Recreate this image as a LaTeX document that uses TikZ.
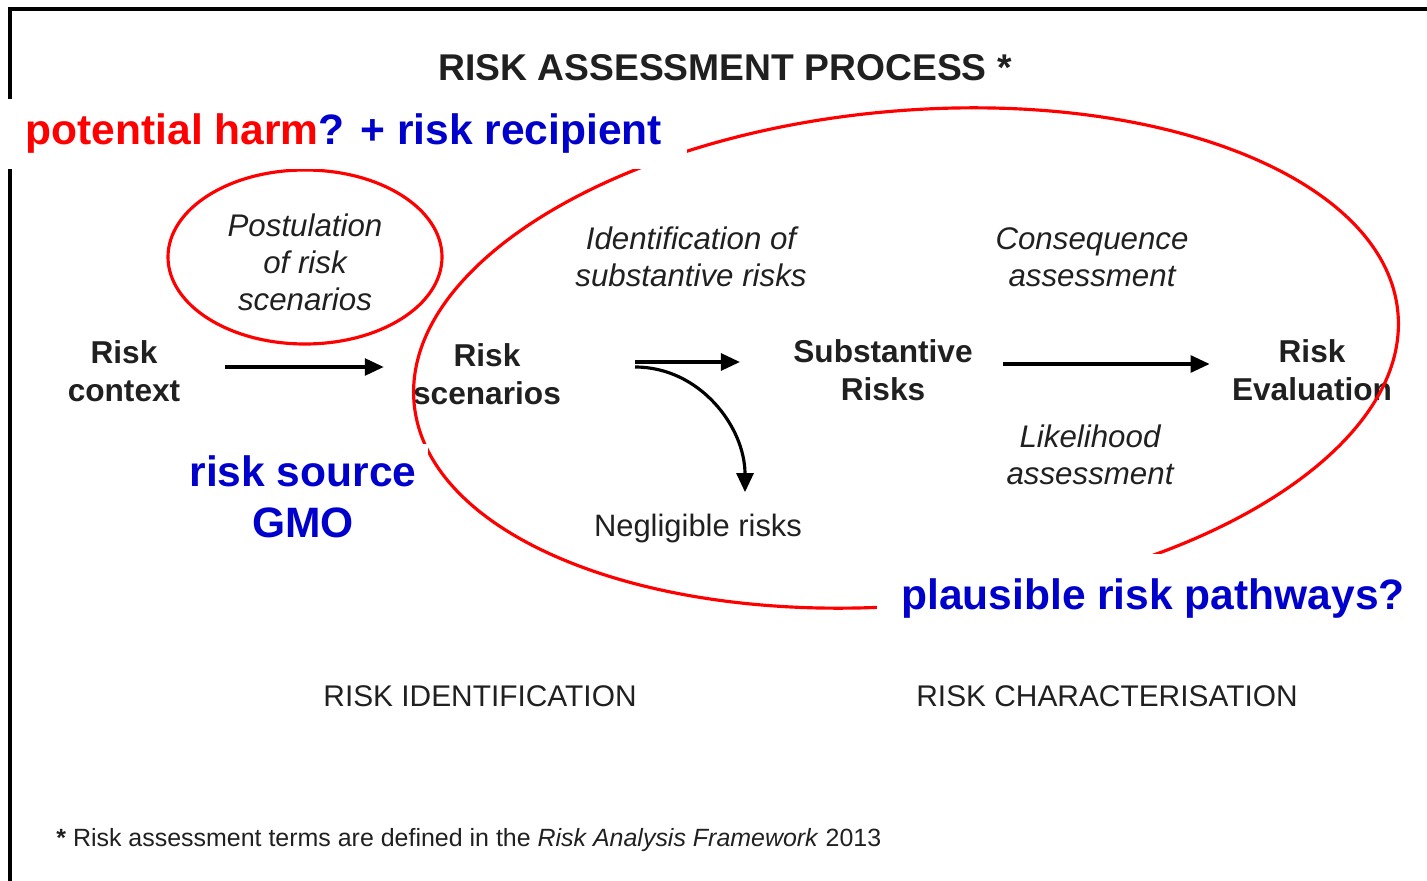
\documentclass[tikz,border=0pt]{standalone}
\usepackage{fontspec}
\setmainfont{Liberation Sans}
\usepackage{xcolor}
\usepackage{tikz}
\usetikzlibrary{arrows.meta, calc}
\definecolor{inkgrey}{HTML}{202020}
\definecolor{markred}{HTML}{FF0000}
\definecolor{markblue}{HTML}{0000CC}

\begin{document}
\begin{tikzpicture}[
    >={Triangle[length=5.4pt, width=4.8pt]},
    stage/.style={font=\bfseries\fontsize{9}{10.8}\selectfont, text=inkgrey, align=center},
    activity/.style={font=\itshape\fontsize{8.9}{10.5}\selectfont, text=inkgrey, align=center},
    phase/.style={font=\fontsize{8.5}{10}\selectfont, text=inkgrey},
    remark/.style={font=\bfseries\fontsize{12.1}{14.5}\selectfont, fill=white, align=center},
    flow/.style={->, line width=0.9pt, draw=black},
    ring/.style={draw=markred, line width=0.9pt}]
  \useasboundingbox (0,0) rectangle (14.27,8.8);
  % frame, cut at the right and bottom
  \draw[line width=0.9pt] (0.10,-0.2) -- (0.10,8.71) -- (14.5,8.71);
  \node[font=\bfseries\fontsize{10.6}{12}\selectfont, text=inkgrey] (title) at (7.25,8.125) {RISK ASSESSMENT PROCESS *};

  % process steps
  \node[stage] (context) at (1.24,5.09) {Risk\\context};
  \node[stage] (scen) at (4.87,5.06) {Risk\\scenarios};
  \node[stage] (subst) at (8.83,5.095) {Substantive\\Risks};
  \node[stage] (eval) at (13.12,5.095) {Risk\\Evaluation};
  \node[activity] (postul) at (3.05,6.175) {Postulation\\of risk\\scenarios};
  \node[activity] (ident) at (6.91,6.23) {Identification of\\substantive risks};
  \node[activity] (conseq) at (10.92,6.23) {Consequence\\assessment};
  \node[activity] (likely) at (10.90,4.255) {Likelihood\\assessment};
  \node[font=\fontsize{8.8}{10.5}\selectfont, text=inkgrey] (negl) at (6.98,3.52) {Negligible risks};
  \node[phase] (riskid) at (4.80,1.84) {RISK IDENTIFICATION};
  \node[phase] (riskchar) at (11.07,1.84) {RISK CHARACTERISATION};
  \node[anchor=west, font=\fontsize{7.1}{8}\selectfont, text=inkgrey] (foot) at (0.44,0.40)
    {\textbf{*} Risk assessment terms are defined in the \textit{Risk Analysis Framework} 2013};

  % arrows
  \coordinate (fork) at (6.35,5.16);
  \draw[flow, shorten <=3.2mm, shorten >=1.7mm] ([yshift=0.4mm]context.east) -- ([yshift=0.4mm]context.east -| scen.west);
  \draw[flow, shorten >=4.1mm] ([yshift=0.2mm]fork) -- ([yshift=0.2mm]fork -| subst.west);
  \draw[flow] ([yshift=-0.3mm]fork) to[out=0, in=90] ([xshift=4.7mm, yshift=0.9mm]negl.north);
  \draw[flow, shorten <=1.8mm, shorten >=1.0mm] ([yshift=0.65mm]subst.east) -- ([yshift=0.65mm]subst.east -| eval.west);

  % red rings
  \draw[ring] (3.05,6.23) ellipse (1.37 and 0.87);
  \draw[ring, rotate around={5.3:(9.06,5.22)}] (9.06,5.22) ellipse (4.94 and 2.47);

  % annotations
  \node[remark, anchor=west, inner xsep=0.25cm, minimum height=0.7cm] (harm) at (0,7.46)
    {\textcolor{markred}{potential harm}\textcolor{markblue}{? + risk recipient}};
  \node[remark, text=markblue, inner sep=0.12cm] (source) at (3.03,3.83) {risk source\\GMO};
  \node[remark, text=markblue, inner sep=0.24cm] (pathway) at (11.53,2.82) {plausible risk pathways?};
\end{tikzpicture}
\end{document}
